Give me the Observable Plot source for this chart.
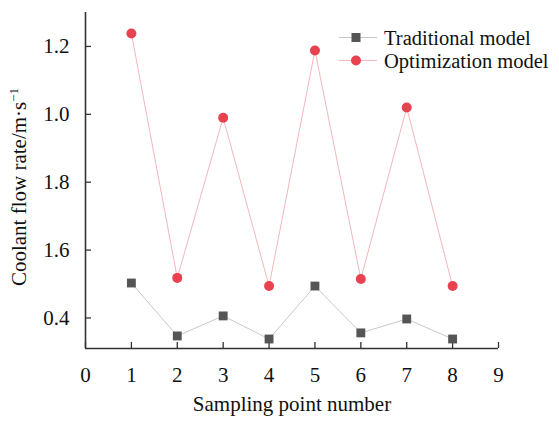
<!DOCTYPE html>
<html><head><meta charset="utf-8">
<script src="https://cdn.jsdelivr.net/npm/d3@7"></script>
<script src="https://cdn.jsdelivr.net/npm/@observablehq/plot@0.6"></script>
<style>
body{margin:0;background:#fff;}
#wrap{position:relative;width:559px;height:421px;font-family:'Liberation Serif',serif;}
#wrap svg text{font-family:'Liberation Serif',serif !important;}
#legend{position:absolute;left:339px;top:26px;font-size:20.5px;color:#111;font-family:'Liberation Serif',serif;}
#legend div{display:flex;align-items:center;height:23px;}
#legend span{line-height:20px;display:block;}
#legend svg{margin-right:7px;flex:none;}
</style></head>
<body><div id="wrap"><div id="legend"></div></div>
<script>
const samplePoints = [1,2,3,4,5,6,7,8];
const traditional = [0.503,0.347,0.406,0.338,0.494,0.356,0.397,0.338];
const optimization = [1.238,0.518,0.99,0.494,1.188,0.515,1.02,0.494];
const yTickValues = [0.4,0.6,0.8,1.0,1.2];
const yTickLabels = ["0.4","1.6","1.8","1.0","1.2"];
const xTickValues = [0,1,2,3,4,5,6,7,8,9];
const seriesNames = ["Traditional model","Optimization model"];

const data = [];
samplePoints.forEach((p,i)=>{
  data.push({x:p,y:traditional[i],s:seriesNames[0]});
  data.push({x:p,y:optimization[i],s:seriesNames[1]});
});
const trad = data.filter(d=>d.s===seriesNames[0]);
const opt = data.filter(d=>d.s===seriesNames[1]);
const axisColor = "#333";
const fs = "21px";

const chart = Plot.plot({
  width:559,height:421,
  marginLeft:85,marginRight:61,marginTop:12,marginBottom:73,
  style:{fontFamily:"Liberation Serif",fontSize:fs,background:"#fff",color:"#111"},
  x:{domain:[0,9]},
  y:{domain:[0.31,1.3]},
  marks:[
    Plot.axisX({ticks:xTickValues,tickSize:-6,text:null,stroke:axisColor,strokeWidth:1.3,label:null}),
    Plot.axisX({ticks:xTickValues,tickSize:0,tickPadding:19,tickFormat:d=>String(d),label:null,fill:"#111",fontSize:fs}),
    Plot.axisY({ticks:yTickValues,tickSize:-6,text:null,stroke:axisColor,strokeWidth:1.3,label:null}),
    Plot.axisY({ticks:yTickValues,tickSize:0,tickPadding:16,tickFormat:d=>yTickLabels[yTickValues.indexOf(d)],label:null,fill:"#111",fontSize:fs}),
    Plot.ruleX([0],{stroke:axisColor,strokeWidth:1.6}),
    Plot.ruleY([0.31],{stroke:axisColor,strokeWidth:1.6}),
    Plot.line(trad,{x:"x",y:"y",stroke:"#c8c8c8",strokeWidth:1}),
    Plot.line(opt,{x:"x",y:"y",stroke:"#f2b6bb",strokeWidth:1}),
    Plot.dot(trad,{x:"x",y:"y",symbol:"square",r:5,fill:"#555",stroke:"none"}),
    Plot.dot(opt,{x:"x",y:"y",symbol:"circle",r:5,fill:"#e8414f",stroke:"none"})
  ]
});

const svg = d3.select(chart);
svg.append("text")
  .attr("x",292).attr("y",411)
  .attr("text-anchor","middle")
  .attr("font-size",fs).attr("fill","#111")
  .text("Sampling point number");
const yl = svg.append("text")
  .attr("transform","translate(26,187) rotate(-90)")
  .attr("text-anchor","middle")
  .attr("font-size",fs).attr("fill","#111");
yl.append("tspan").text("Coolant flow rate/m·s");
yl.append("tspan").attr("dy","-8").attr("font-size","13px").text("−1");

document.getElementById("wrap").prepend(chart);

const legend = document.getElementById("legend");
[[seriesNames[0],"#c8c8c8","#555","square"],[seriesNames[1],"#f2b6bb","#e8414f","circle"]].forEach(([name,lc,mc,sym])=>{
  const row = document.createElement("div");
  const marker = sym==="square"
    ? `<rect x="12.5" y="6" width="9" height="9" fill="${mc}"/>`
    : `<circle cx="17" cy="10.5" r="5" fill="${mc}"/>`;
  row.innerHTML = `<svg width="38" height="21"><line x1="0" x2="38" y1="10.5" y2="10.5" stroke="${lc}" stroke-width="1"/>${marker}</svg><span>${name}</span>`;
  legend.appendChild(row);
});
</script></body></html>
